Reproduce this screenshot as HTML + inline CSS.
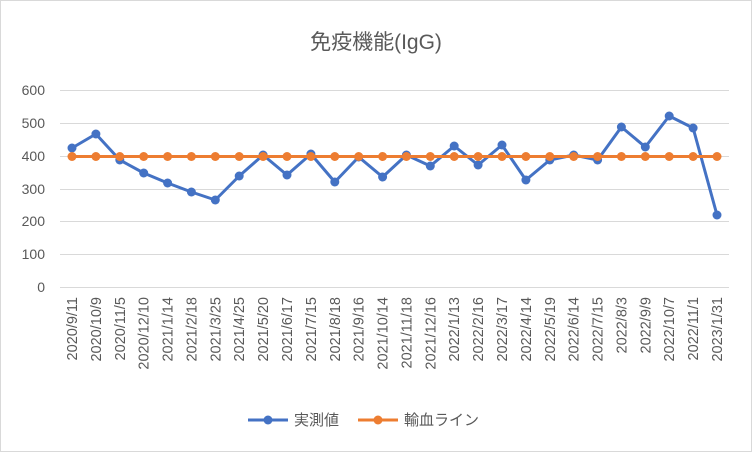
<!DOCTYPE html>
<html><head><meta charset="utf-8"><style>body{margin:0;background:#fff}svg{display:block}</style></head><body>
<svg width="752" height="452" xmlns="http://www.w3.org/2000/svg" font-family="Liberation Sans, Noto Sans CJK JP, sans-serif">
<rect x="0.5" y="0.5" width="751" height="451" fill="#fff" stroke="#d9d9d9"/>
<text x="376" y="49" text-anchor="middle" font-size="21" fill="#595959">免疫機能(IgG)</text>
<g stroke="#d9d9d9" stroke-width="1">
<line x1="60" x2="729" y1="287.5" y2="287.5"/><line x1="60" x2="729" y1="254.5" y2="254.5"/><line x1="60" x2="729" y1="221.5" y2="221.5"/><line x1="60" x2="729" y1="189.5" y2="189.5"/><line x1="60" x2="729" y1="156.5" y2="156.5"/><line x1="60" x2="729" y1="123.5" y2="123.5"/><line x1="60" x2="729" y1="90.5" y2="90.5"/>
</g>
<g font-size="14" fill="#595959" text-anchor="end">
<text x="45" y="292">0</text><text x="45" y="259">100</text><text x="45" y="226">200</text><text x="45" y="194">300</text><text x="45" y="161">400</text><text x="45" y="128">500</text><text x="45" y="95">600</text>
</g>
<g font-size="14.5" fill="#595959" text-anchor="end">
<text transform="translate(77,297) rotate(-90)">2020/9/11</text>
<text transform="translate(100.9,297) rotate(-90)">2020/10/9</text>
<text transform="translate(124.8,297) rotate(-90)">2020/11/5</text>
<text transform="translate(148.7,297) rotate(-90)">2020/12/10</text>
<text transform="translate(172.6,297) rotate(-90)">2021/1/14</text>
<text transform="translate(196.4,297) rotate(-90)">2021/2/18</text>
<text transform="translate(220.3,297) rotate(-90)">2021/3/25</text>
<text transform="translate(244.2,297) rotate(-90)">2021/4/25</text>
<text transform="translate(268.1,297) rotate(-90)">2021/5/20</text>
<text transform="translate(292,297) rotate(-90)">2021/6/17</text>
<text transform="translate(315.9,297) rotate(-90)">2021/7/15</text>
<text transform="translate(339.8,297) rotate(-90)">2021/8/18</text>
<text transform="translate(363.7,297) rotate(-90)">2021/9/16</text>
<text transform="translate(387.6,297) rotate(-90)">2021/10/14</text>
<text transform="translate(411.4,297) rotate(-90)">2021/11/18</text>
<text transform="translate(435.3,297) rotate(-90)">2021/12/16</text>
<text transform="translate(459.2,297) rotate(-90)">2022/1/13</text>
<text transform="translate(483.1,297) rotate(-90)">2022/2/16</text>
<text transform="translate(507,297) rotate(-90)">2022/3/17</text>
<text transform="translate(530.9,297) rotate(-90)">2022/4/14</text>
<text transform="translate(554.8,297) rotate(-90)">2022/5/19</text>
<text transform="translate(578.7,297) rotate(-90)">2022/6/14</text>
<text transform="translate(602.6,297) rotate(-90)">2022/7/15</text>
<text transform="translate(626.4,297) rotate(-90)">2022/8/3</text>
<text transform="translate(650.3,297) rotate(-90)">2022/9/9</text>
<text transform="translate(674.2,297) rotate(-90)">2022/10/7</text>
<text transform="translate(698.1,297) rotate(-90)">2022/11/1</text>
<text transform="translate(722,297) rotate(-90)">2023/1/31</text>
</g>
<polyline fill="none" stroke="#4472c4" stroke-width="3" stroke-linejoin="round" points="72,148 95.9,134 119.8,160 143.7,173 167.6,183 191.4,192 215.3,200 239.2,176 263.1,155 287,175 310.9,154 334.8,182 358.7,157 382.6,177 406.4,155 430.3,166 454.2,146 478.1,165 502,145 525.9,180 549.8,160 573.7,155 597.6,160 621.4,127 645.3,147 669.2,116 693.1,128 717,215"/>
<g fill="#4472c4">
<circle cx="72" cy="148" r="4.5"/><circle cx="95.9" cy="134" r="4.5"/><circle cx="119.8" cy="160" r="4.5"/><circle cx="143.7" cy="173" r="4.5"/><circle cx="167.6" cy="183" r="4.5"/><circle cx="191.4" cy="192" r="4.5"/><circle cx="215.3" cy="200" r="4.5"/><circle cx="239.2" cy="176" r="4.5"/><circle cx="263.1" cy="155" r="4.5"/><circle cx="287" cy="175" r="4.5"/><circle cx="310.9" cy="154" r="4.5"/><circle cx="334.8" cy="182" r="4.5"/><circle cx="358.7" cy="157" r="4.5"/><circle cx="382.6" cy="177" r="4.5"/><circle cx="406.4" cy="155" r="4.5"/><circle cx="430.3" cy="166" r="4.5"/><circle cx="454.2" cy="146" r="4.5"/><circle cx="478.1" cy="165" r="4.5"/><circle cx="502" cy="145" r="4.5"/><circle cx="525.9" cy="180" r="4.5"/><circle cx="549.8" cy="160" r="4.5"/><circle cx="573.7" cy="155" r="4.5"/><circle cx="597.6" cy="160" r="4.5"/><circle cx="621.4" cy="127" r="4.5"/><circle cx="645.3" cy="147" r="4.5"/><circle cx="669.2" cy="116" r="4.5"/><circle cx="693.1" cy="128" r="4.5"/><circle cx="717" cy="215" r="4.5"/>
</g>
<line x1="72" x2="717" y1="156.5" y2="156.5" stroke="#ed7d31" stroke-width="3"/>
<g fill="#ed7d31">
<circle cx="72" cy="156.5" r="4.5"/><circle cx="95.9" cy="156.5" r="4.5"/><circle cx="119.8" cy="156.5" r="4.5"/><circle cx="143.7" cy="156.5" r="4.5"/><circle cx="167.6" cy="156.5" r="4.5"/><circle cx="191.4" cy="156.5" r="4.5"/><circle cx="215.3" cy="156.5" r="4.5"/><circle cx="239.2" cy="156.5" r="4.5"/><circle cx="263.1" cy="156.5" r="4.5"/><circle cx="287" cy="156.5" r="4.5"/><circle cx="310.9" cy="156.5" r="4.5"/><circle cx="334.8" cy="156.5" r="4.5"/><circle cx="358.7" cy="156.5" r="4.5"/><circle cx="382.6" cy="156.5" r="4.5"/><circle cx="406.4" cy="156.5" r="4.5"/><circle cx="430.3" cy="156.5" r="4.5"/><circle cx="454.2" cy="156.5" r="4.5"/><circle cx="478.1" cy="156.5" r="4.5"/><circle cx="502" cy="156.5" r="4.5"/><circle cx="525.9" cy="156.5" r="4.5"/><circle cx="549.8" cy="156.5" r="4.5"/><circle cx="573.7" cy="156.5" r="4.5"/><circle cx="597.6" cy="156.5" r="4.5"/><circle cx="621.4" cy="156.5" r="4.5"/><circle cx="645.3" cy="156.5" r="4.5"/><circle cx="669.2" cy="156.5" r="4.5"/><circle cx="693.1" cy="156.5" r="4.5"/><circle cx="717" cy="156.5" r="4.5"/>
</g>
<line x1="248" x2="288" y1="420" y2="420" stroke="#4472c4" stroke-width="3"/><circle cx="268" cy="420" r="4.5" fill="#4472c4"/>
<text x="294" y="425" font-size="15" fill="#595959">実測値</text>
<line x1="358" x2="398" y1="420" y2="420" stroke="#ed7d31" stroke-width="3"/><circle cx="378" cy="420" r="4.5" fill="#ed7d31"/>
<text x="404" y="425" font-size="15" fill="#595959">輸血ライン</text>
</svg>
</body></html>
